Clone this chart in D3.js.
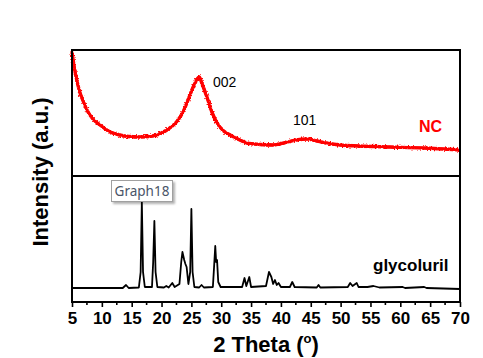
<!DOCTYPE html>
<html><head><meta charset="utf-8">
<script src="https://cdn.jsdelivr.net/npm/d3@7"></script>
<style>html,body{margin:0;padding:0;background:#fff;}svg{display:block;}</style>
</head><body>
<script>
// ---- data ----
const xTicks = [5,10,15,20,25,30,35,40,45,50,55,60,65,70];
const ncTheta = [5,5.4,5.8,6.3,6.8,7.5,8.5,9.7,11.4,13,14.5,16.4,18.5,20.9,22.5,23.6,24.5,25.3,25.8,26.3,26.8,27.6,28.5,29.3,30.4,31.5,33.1,34.3,36.5,38.7,40.5,42.5,44.4,46,48,49.9,53,58.3,63.8,70];
const ncValue = [124,108,96,84,76,66,57,51,44,41,39.5,39,40,46,54,64,77,89,95,99,92,79,63,53,45,41,36,33,31.5,31,33,36,37,35,32.5,31,30,29,28,26];
const glyTheta = [5,13.5,14.05,14.5,16.2,16.5,16.7,16.9,17.2,18.4,18.6,18.8,19.0,19.3,20.4,20.8,21.2,21.8,22.2,23.0,23.3,23.5,23.8,24.0,24.2,24.5,24.8,25.0,25.2,25.5,26.3,26.7,27.1,28.6,28.8,29.0,29.15,29.3,29.5,29.9,33.5,33.9,34.2,34.7,35.0,37.5,38.0,38.4,38.7,39.0,39.3,39.6,40.0,41.5,41.9,42.3,46.0,46.3,46.6,51.2,51.6,52.0,52.7,53.0,54.5,55.5,56.5,60.4,60.8,64.0,64.4,70];
const glyValue = [14,14,17,14,14.5,30,100,30,15,15,40,81,30,15,14.5,16,14.5,19,15,18,40,50,42,38,35,18,30,93,30,15,14.5,17,14.5,15,35,56,40,42,20,15,15,24,16,25,15,16,30,25,18,22,17,19,15,15,20,15,14.5,17,14.5,15,19,16,19,15,15,16,14.5,15,14,15,14,13];
const labels = {peak1:"002", peak2:"101", nc:"NC", gly:"glycoluril", tip:"Graph18"};

// ---- layout ----
const W=483,H=358;
const L=72,R=460,T=50,M=176,B=302;
const svg=d3.select("body").append("svg").attr("width",W).attr("height",H);
const font="Arial, 'Liberation Sans', sans-serif";

const x=d3.scaleLinear().domain([5,70]).range([L,R]);
const yTop=d3.scaleLinear().domain([0,126]).range([M,T]);
const yBot=d3.scaleLinear().domain([0,126]).range([B,M]);

const defs=svg.append("defs");
const f=defs.append("filter").attr("id","rough").attr("x","-5%").attr("y","-20%").attr("width","110%").attr("height","140%");
f.append("feTurbulence").attr("type","fractalNoise").attr("baseFrequency","0.7").attr("numOctaves",2).attr("seed",5).attr("result","n");
f.append("feDisplacementMap").attr("in","SourceGraphic").attr("in2","n").attr("scale",3.5).attr("xChannelSelector","R").attr("yChannelSelector","G");
const sh=defs.append("filter").attr("id","shadow").attr("x","-20%").attr("y","-30%").attr("width","150%").attr("height","180%");
sh.append("feDropShadow").attr("dx",2).attr("dy",2).attr("stdDeviation",1.2).attr("flood-color","#000").attr("flood-opacity",0.3);

// NC curve (solid core + rough noisy band)
const ncData=ncTheta.map((t,i)=>[t,ncValue[i]]);
const ncLine=d3.line().x(d=>x(d[0])).y(d=>yTop(d[1])).curve(d3.curveMonotoneX);
svg.append("path").datum(ncData).attr("d",ncLine)
  .attr("fill","none").attr("stroke","#ff0000").attr("stroke-width",2.6);
svg.append("path").datum(ncData).attr("d",ncLine)
  .attr("fill","none").attr("stroke","#ff0000").attr("stroke-width",3.4).attr("filter","url(#rough)");

// glycoluril curve
const glyData=glyTheta.map((t,i)=>[t,glyValue[i]]);
svg.append("path").datum(glyData)
  .attr("d",d3.line().x(d=>x(d[0])).y(d=>yBot(d[1])))
  .attr("fill","none").attr("stroke","#000").attr("stroke-width",1.8).attr("stroke-linejoin","round");

// frames
svg.append("rect").attr("x",L).attr("y",T).attr("width",R-L).attr("height",B-T)
  .attr("fill","none").attr("stroke","#000").attr("stroke-width",2);
svg.append("line").attr("x1",L).attr("x2",R).attr("y1",M).attr("y2",M).attr("stroke","#000").attr("stroke-width",2);

// x axis
const ax=svg.append("g").attr("transform",`translate(0,${B})`)
  .call(d3.axisBottom(x).tickValues(xTicks).tickSize(5).tickPadding(5).tickFormat(d3.format("d")));
ax.select(".domain").remove();
ax.selectAll(".tick line").attr("stroke-width",1.6);
ax.selectAll("text").attr("font-family",font).attr("font-size",17).attr("font-weight","bold").attr("fill","#000");
const minor=d3.range(7.5,70,5);
svg.append("g").selectAll("line").data(minor).join("line")
  .attr("x1",d=>x(d)).attr("x2",d=>x(d)).attr("y1",B).attr("y2",B+3)
  .attr("stroke","#000").attr("stroke-width",1.6);

// axis titles
const xt=svg.append("text").attr("x",266).attr("y",352).attr("text-anchor","middle")
  .attr("font-family",font).attr("font-size",22).attr("font-weight","bold");
xt.append("tspan").text("2 Theta (");
xt.append("tspan").attr("font-size",13).attr("dy",-9).text("o");
xt.append("tspan").attr("dy",9).text(")");
svg.append("text").attr("transform","translate(48,172) rotate(-90)").attr("text-anchor","middle")
  .attr("font-family",font).attr("font-size",22).attr("font-weight","bold").text("Intensity (a.u.)");

// annotations
svg.append("text").attr("x",213).attr("y",87).attr("font-family",font).attr("font-size",14).text(labels.peak1);
svg.append("text").attr("x",293).attr("y",125).attr("font-family",font).attr("font-size",14).text(labels.peak2);
svg.append("text").attr("x",419).attr("y",132).attr("font-family",font).attr("font-size",16).attr("font-weight","bold").attr("fill","#ff0000").text(labels.nc);
svg.append("text").attr("x",373).attr("y",271).attr("font-family",font).attr("font-size",17).attr("font-weight","bold").text(labels.gly);

// tooltip box
svg.append("rect").attr("x",111.5).attr("y",180.5).attr("width",61).attr("height",21)
  .attr("fill","#fff").attr("stroke","#a0a0a0").attr("stroke-width",1).attr("filter","url(#shadow)");
svg.append("text").attr("x",142).attr("y",196).attr("text-anchor","middle")
  .attr("font-family","'Noto Sans', sans-serif").attr("font-size",13.5).attr("fill","#4a5568").text(labels.tip);
</script>
</body></html>
